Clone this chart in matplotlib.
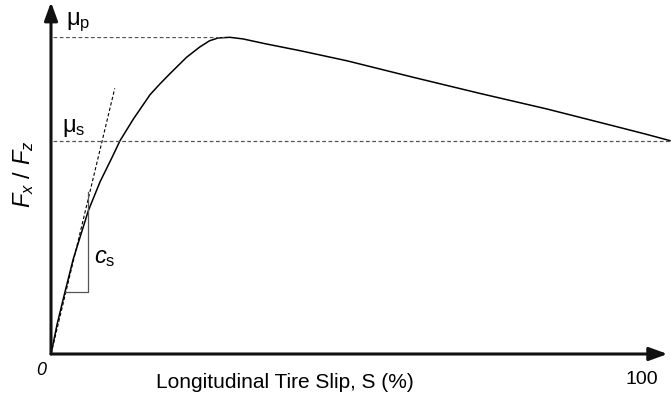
import matplotlib
matplotlib.use("Agg")
import matplotlib.pyplot as plt

plt.rcParams['font.family'] = ['Liberation Sans', 'DejaVu Sans']
plt.rcParams['mathtext.fontset'] = 'custom'
plt.rcParams['mathtext.rm'] = 'Liberation Sans'
plt.rcParams['mathtext.it'] = 'Liberation Sans:italic'

# slip (%) vs normalised friction Fx/Fz (peak = 1)
slip = [0, 1.0, 2.26, 3.6, 6.03, 7.92, 9.81, 11.15, 13.3, 16.0, 17.6, 19.2,
        21.9, 24.0, 25.6, 27.0, 28.9, 31.0, 34.8, 40.2, 47.8, 58.5, 69.3,
        80.1, 90.8, 96.2, 100]
mu = [0, 0.095, 0.196, 0.300, 0.452, 0.543, 0.618, 0.673, 0.741, 0.818,
      0.852, 0.884, 0.936, 0.968, 0.988, 0.997, 0.999, 0.994, 0.978, 0.957,
      0.925, 0.873, 0.822, 0.773, 0.720, 0.693, 0.673]

mu_p = 1.0
mu_s = 0.672
peak_slip = 28.0
tangent_end = (10.3, 0.838)
tri_x = [2.26, 6.03]
tri_y = [0.195, 0.511]

fig = plt.figure(figsize=(6.72, 4.06), dpi=100)
W, H = 672, 406
ax = fig.add_axes([51 / W, (H - 355) / H, (670 - 51) / W, (355 - 38) / H])
ax.set_xlim(0, 100)
ax.set_ylim(0, 1)
ax.axis('off')

ax.plot(slip, mu, color='black', lw=1.1, clip_on=False)

# reference levels
ax.plot([0.3, peak_slip], [mu_p, mu_p], color='#555555', lw=0.9, ls=(0, (3, 2)))
ax.plot([0.3, 100], [mu_s, mu_s], color='#555555', lw=0.9, ls=(0, (3, 2)))

# initial slope
ax.plot([0, tangent_end[0]], [0, tangent_end[1]], color='black', lw=0.8,
        ls=(0, (3, 2)))
ax.plot([tri_x[0], tri_x[1], tri_x[1]], [tri_y[0], tri_y[0], tri_y[1]],
        color='#555555', lw=0.9)

# axes with arrows
ax.annotate('', xy=(99.6, 0), xytext=(0, 0), annotation_clip=False,
            arrowprops=dict(arrowstyle='-|>,head_length=1.1,head_width=0.4',
                            color='#111111', lw=2.2, shrinkA=0, shrinkB=0))
ax.annotate('', xy=(0, 1.11), xytext=(0, 0), annotation_clip=False,
            arrowprops=dict(arrowstyle='-|>,head_length=1.1,head_width=0.4',
                            color='#111111', lw=2.2, shrinkA=0, shrinkB=0))

ax.text(2.4, 1.05, r'$\mathrm{\mu}_{\mathrm{p}}$', fontsize=17, va='center')
ax.text(1.8, 0.715, r'$\mathrm{\mu}_{\mathrm{s}}$', fontsize=17, va='center')
ax.text(7.0, 0.305, r'$c_{\mathrm{s}}$', fontsize=17, va='center')
ax.text(-1.5, -0.05, '0', fontsize=13, style='italic', ha='center', va='center')
ax.text(95.5, -0.078, '100', fontsize=14, ha='center', va='center')
ax.text(37.8, -0.088, 'Longitudinal Tire Slip, S (%)', fontsize=15,
        ha='center', va='center')
ax.text(-4.4, 0.57, r'$F_x\ /\ F_z$', fontsize=17, rotation=90,
        ha='center', va='center')

fig.savefig('out.png', dpi=100)
